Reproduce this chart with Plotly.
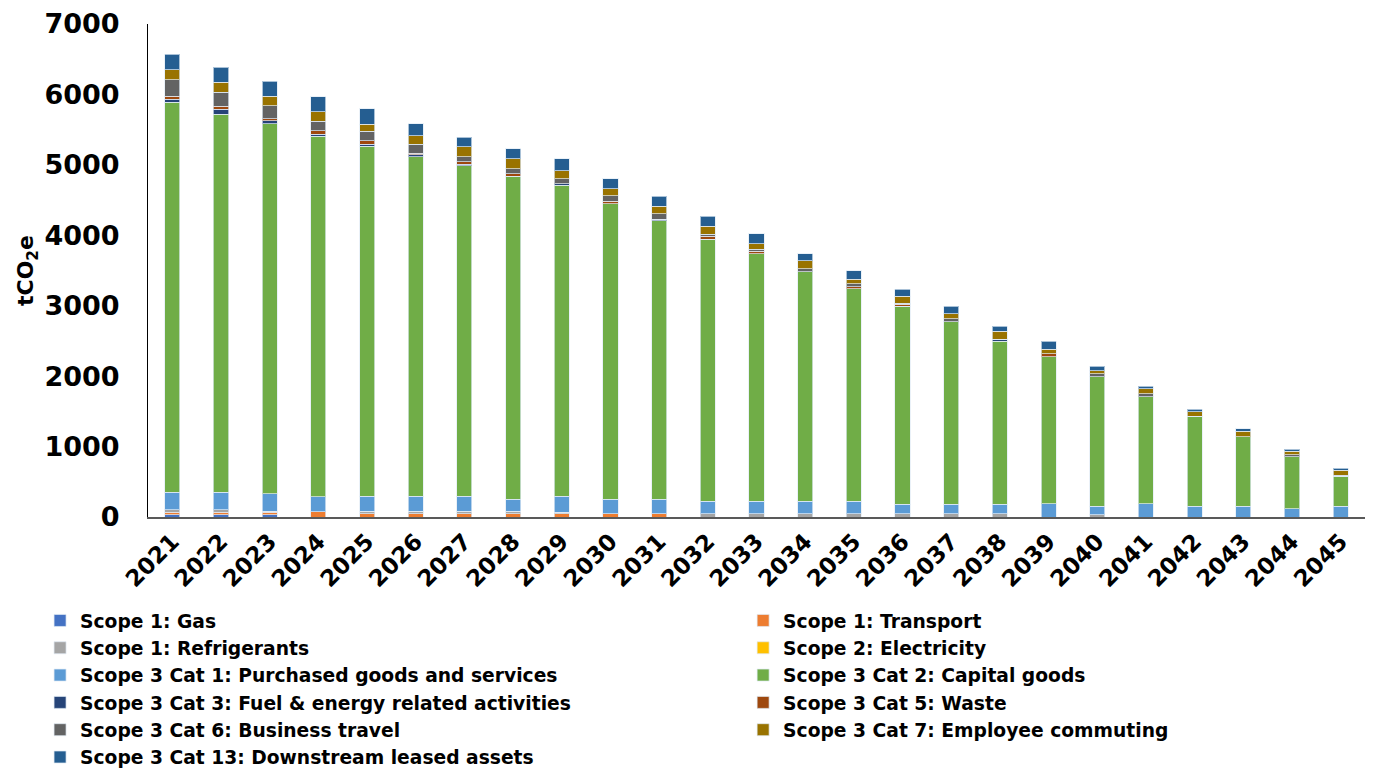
import plotly.graph_objects as go

years = [str(y) for y in range(2021, 2046)]

# Emissions by source, tCO2e per year
scope1_gas = [33, 33, 33, 0, 0, 0, 0, 0, 0, 0, 0, 0, 0, 0, 0, 0, 0, 0, 0, 0, 0, 0, 0, 0, 0]
scope1_transport = [33, 33, 38, 75, 47, 47, 47, 47, 43, 47, 47, 0, 0, 0, 0, 0, 0, 0, 0, 0, 0, 0, 0, 0, 0]
scope1_refrigerants = [38, 38, 10, 0, 38, 38, 38, 38, 28, 0, 0, 47, 47, 47, 47, 47, 47, 47, 0, 33, 0, 0, 0, 0, 0]
scope2_electricity = [0] * 25
cat1_purchased = [250, 250, 246, 213, 208, 208, 208, 170, 222, 208, 208, 180, 180, 175, 175, 137, 137, 137, 189, 118, 185, 151, 151, 114, 151]
cat2_capital = [5537, 5363, 5258, 5117, 4970, 4823, 4691, 4580, 4416, 4193, 3951, 3720, 3511, 3261, 3016, 2806, 2588, 2309, 2087, 1842, 1524, 1278, 990, 743, 426]
cat3_fuel_energy = [38, 71, 43, 33, 33, 28, 28, 0, 20, 0, 24, 0, 0, 0, 0, 0, 0, 33, 0, 0, 0, 0, 0, 0, 0]
cat5_waste = [43, 43, 28, 43, 47, 19, 33, 38, 0, 38, 0, 38, 33, 0, 28, 33, 0, 0, 43, 0, 0, 0, 0, 0, 0]
cat6_travel = [237, 203, 180, 137, 133, 133, 71, 71, 71, 76, 76, 33, 33, 43, 47, 14, 43, 0, 0, 38, 43, 0, 0, 28, 14]
cat7_commuting = [142, 142, 136, 137, 104, 114, 142, 142, 114, 99, 104, 109, 76, 109, 66, 95, 71, 114, 66, 43, 66, 66, 76, 47, 71]
cat13_leased = [218, 213, 213, 213, 218, 175, 137, 142, 175, 142, 142, 142, 142, 104, 114, 104, 104, 66, 109, 66, 38, 38, 33, 33, 33]

# (name, values, colour, legend column)
series = [
    ("Scope 1: Gas", scope1_gas, "#4472C4", "legend"),
    ("Scope 1: Transport", scope1_transport, "#ED7D31", "legend2"),
    ("Scope 1: Refrigerants", scope1_refrigerants, "#A5A5A5", "legend"),
    ("Scope 2: Electricity", scope2_electricity, "#FFC000", "legend2"),
    ("Scope 3 Cat 1: Purchased goods and services", cat1_purchased, "#5B9BD5", "legend"),
    ("Scope 3 Cat 2: Capital goods", cat2_capital, "#70AD47", "legend2"),
    ("Scope 3 Cat 3: Fuel & energy related activities", cat3_fuel_energy, "#264478", "legend"),
    ("Scope 3 Cat 5: Waste", cat5_waste, "#9E480E", "legend2"),
    ("Scope 3 Cat 6: Business travel", cat6_travel, "#636363", "legend"),
    ("Scope 3 Cat 7: Employee commuting", cat7_commuting, "#997300", "legend2"),
    ("Scope 3 Cat 13: Downstream leased assets", cat13_leased, "#255E91", "legend"),
]

FONT = "DejaVu Sans"

fig = go.Figure()
for name, values, color, leg in series:
    fig.add_trace(go.Bar(
        x=years, y=values, name=name, legend=leg,
        marker=dict(color=color, line=dict(color="rgba(225,235,245,0.7)", width=1)),
    ))

legend_font = dict(family=FONT, size=18.7, color="black", weight="bold")
legend_common = dict(
    orientation="v", yanchor="top", xanchor="left",
    font=legend_font, tracegroupgap=0, traceorder="normal",
    bgcolor="rgba(0,0,0,0)", itemwidth=30,
)

fig.update_layout(
    barmode="stack",
    bargap=0.69,
    width=1373, height=769,
    margin=dict(l=148, r=8, t=24, b=252, autoexpand=False),
    paper_bgcolor="white", plot_bgcolor="white",
    font=dict(family=FONT, color="black"),
    showlegend=True,
    legend=dict(x=-0.0887, y=-0.172, **legend_common),
    legend2=dict(x=0.489, y=-0.172, **legend_common),
    yaxis=dict(
        range=[0, 7000], dtick=1000,
        showgrid=False, zeroline=False,
        showline=True, linecolor="black", linewidth=1,
        ticks="", ticklabelstandoff=22,
        tickfont=dict(family=FONT, size=27, color="black", weight="bold"),
        title=dict(text="tCO<sub>2</sub>e", font=dict(family=FONT, size=22, color="black", weight="bold"), standoff=4),
    ),
    xaxis=dict(
        showgrid=False,
        showline=True, linecolor="#595959", linewidth=2,
        ticks="",
        tickangle=-45,
        tickfont=dict(family=FONT, size=23, color="black", weight="bold"),
    ),
)

fig.write_html("out.html")
